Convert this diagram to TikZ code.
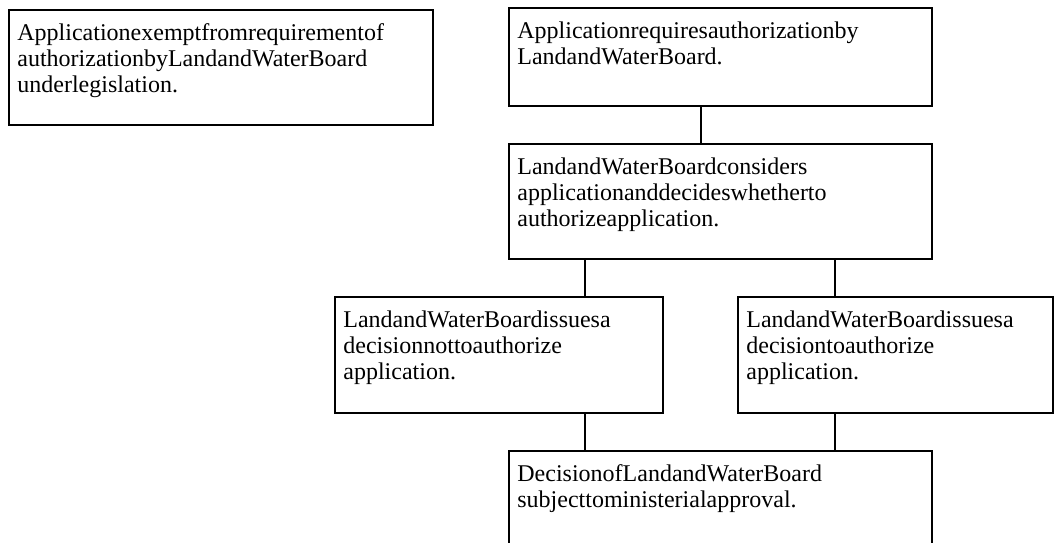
\documentclass[tikz,border=0pt]{standalone}
\usepackage{fontspec}
\setmainfont{Liberation Serif}
\begin{document}
\begin{tikzpicture}[x=0.5bp,y=-0.5bp,
  box/.style={draw, line width=1bp, rectangle, inner sep=0pt, outer sep=0pt},
  txt/.style={anchor=north west, inner sep=0pt, align=left, font=\fontsize{12bp}{13bp}\selectfont},
  link/.style={line width=0.75bp}]
\useasboundingbox (0,0) rectangle (1054,543);
\node[box, minimum width=212bp, minimum height=57.5bp] (A) at (221,67.5) {};
\node[box, minimum width=211.5bp, minimum height=49bp] (B) at (720.5,57) {};
\node[box, minimum width=211.5bp, minimum height=57.5bp] (C) at (720.5,201.5) {};
\node[box, minimum width=164bp, minimum height=58bp] (D) at (499,355) {};
\node[box, minimum width=157.5bp, minimum height=58bp] (E) at (895.5,355) {};
\node[box, minimum width=211.5bp, minimum height=54.5bp] (F) at (720.5,505.5) {};
\node[txt] (tA) at ([shift={(4bp,-6.7bp)}]A.north west) {Applicationexemptfromrequirementof\\authorizationbyLandandWaterBoard\\underlegislation.};
\node[txt] (tB) at ([shift={(4bp,-6.7bp)}]B.north west) {Applicationrequiresauthorizationby\\LandandWaterBoard.};
\node[txt] (tC) at ([shift={(4bp,-6.7bp)}]C.north west) {LandandWaterBoardconsiders\\applicationanddecideswhetherto\\authorizeapplication.};
\node[txt] (tD) at ([shift={(4bp,-6.7bp)}]D.north west) {LandandWaterBoardissuesa\\decisionnottoauthorize\\application.};
\node[txt] (tE) at ([shift={(4bp,-6.7bp)}]E.north west) {LandandWaterBoardissuesa\\decisiontoauthorize\\application.};
\node[txt] (tF) at ([shift={(4bp,-6.7bp)}]F.north west) {DecisionofLandandWaterBoard\\subjecttoministerialapproval.};
\coordinate (m) at (701,0);
\coordinate (l) at (585,0);
\coordinate (r) at (835,0);
\draw[link] (B.south -| m) -- (C.north -| m);
\draw[link] (C.south -| l) -- (D.north -| l);
\draw[link] (C.south -| r) -- (E.north -| r);
\draw[link] (D.south -| l) -- (F.north -| l);
\draw[link] (E.south -| r) -- (F.north -| r);
\end{tikzpicture}
\end{document}
